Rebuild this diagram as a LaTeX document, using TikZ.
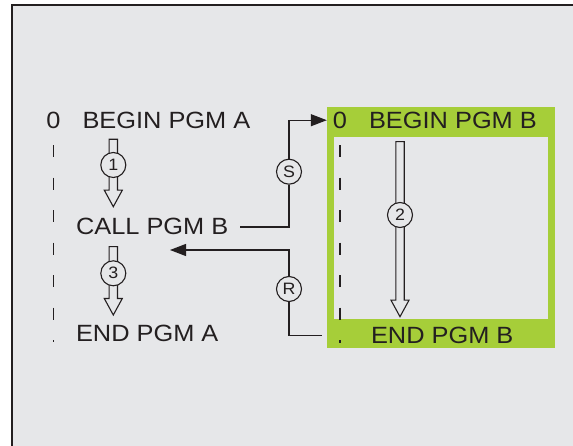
\documentclass[tikz,border=0pt]{standalone}
\usepackage{fontspec}
\setmainfont{Liberation Sans}[FakeStretch=1.08]
\usetikzlibrary{arrows.meta, positioning}
\definecolor{bgGray}{HTML}{E6E7E9}
\definecolor{pgmGreen}{HTML}{A6CE39}
\definecolor{inkDark}{HTML}{231F20}
\tikzset{
  pgmtext/.style={inner sep=0pt, outer sep=0pt, text=inkDark, font=\fontsize{23.5}{28}\selectfont},
  stepmark/.style={circle, draw=inkDark, line width=1.1pt, fill=bgGray, minimum size=25pt, inner sep=0pt, text=inkDark, font=\fontsize{16.5}{18}\selectfont},
  hollowarr/.style={draw=inkDark, line width=1.1pt, fill=bgGray, line join=miter},
  flowline/.style={draw=inkDark, line width=1.2pt},
  flowarr/.style={flowline, -{Triangle[length=16pt, width=12pt]}},
  dashline/.style={draw=inkDark, line width=1.2pt, dash pattern=on 12pt off 20.5pt},
  pgmframe/.style={inner sep=0pt, outer sep=0pt},
}

\begin{document}
\begin{tikzpicture}[x=1pt, y=-1pt]
  \useasboundingbox (0,0) rectangle (573,446);
  \fill[bgGray] (12,5) rectangle (573,446);
  \draw[inkDark, line width=1.3pt] (12,446) -- (12,5) -- (573,5);

  % program B, green frame
  \node[pgmframe, fill=pgmGreen, minimum width=228pt, minimum height=241pt] (greenB) at (440.8,227.8) {};
  \node[pgmframe, fill=bgGray, minimum width=214pt, minimum height=182.6pt] (innerB) at (441.2,228) {};

  % program lines
  \node[pgmtext, anchor=base] (zeroA) at (53.5,129) {0};
  \node[pgmtext, base right=22pt of zeroA] (beginA) {BEGIN PGM A};
  \node[pgmtext, anchor=base west] (callB) at (76,235) {CALL PGM B};
  \node[pgmtext, anchor=base west] (endA) at (76,341.7) {END PGM A};
  \node[pgmtext, anchor=base] (zeroB) at (340,128.3) {0};
  \node[pgmtext, base right=22pt of zeroB] (beginB) {BEGIN PGM B};
  \node[pgmtext, anchor=base west] (endB) at (371,343.3) {END PGM B};

  \draw[dashline] ([yshift=-16pt]zeroA.south) -- (zeroA.south |- endA.base);
  \draw[dashline] ([yshift=-16.5pt]zeroB.south) -- (zeroB.south |- endB.base);

  % hollow run arrows
  \foreach \x/\yt/\yb in {113.3/139.3/206.7, 113.3/246.7/315, 400/141.7/316.7}
    \draw[hollowarr] ({\x-4.2},\yt) -- ({\x+4.2},\yt) -- ({\x+4.2},{\yb-16.5})
      -- ({\x+9},{\yb-16.5}) -- (\x,\yb) -- ({\x-9},{\yb-16.5})
      -- ({\x-4.2},{\yb-16.5}) -- cycle;

  \node[stepmark] (c1) at (113.3,165) {1};
  \node[stepmark] (c3) at (113.3,273.3) {3};
  \node[stepmark] (c2) at (400,215) {2};

  % jump and return
  \coordinate (ret) at (170,250);
  \node[stepmark] (cS) at (289,171.7) {S};
  \node[stepmark] (cR) at (289,289) {R};
  \draw[flowline] ([xshift=12pt]callB.east) -| (cS.south);
  \draw[flowarr] (cS.north) |- (greenB.west |- zeroB.center);
  \draw[flowline] ([xshift=-5pt]greenB.west |- endB.center) -| (cR.south);
  \draw[flowarr] (cR.north) |- (ret);
\end{tikzpicture}
\end{document}
